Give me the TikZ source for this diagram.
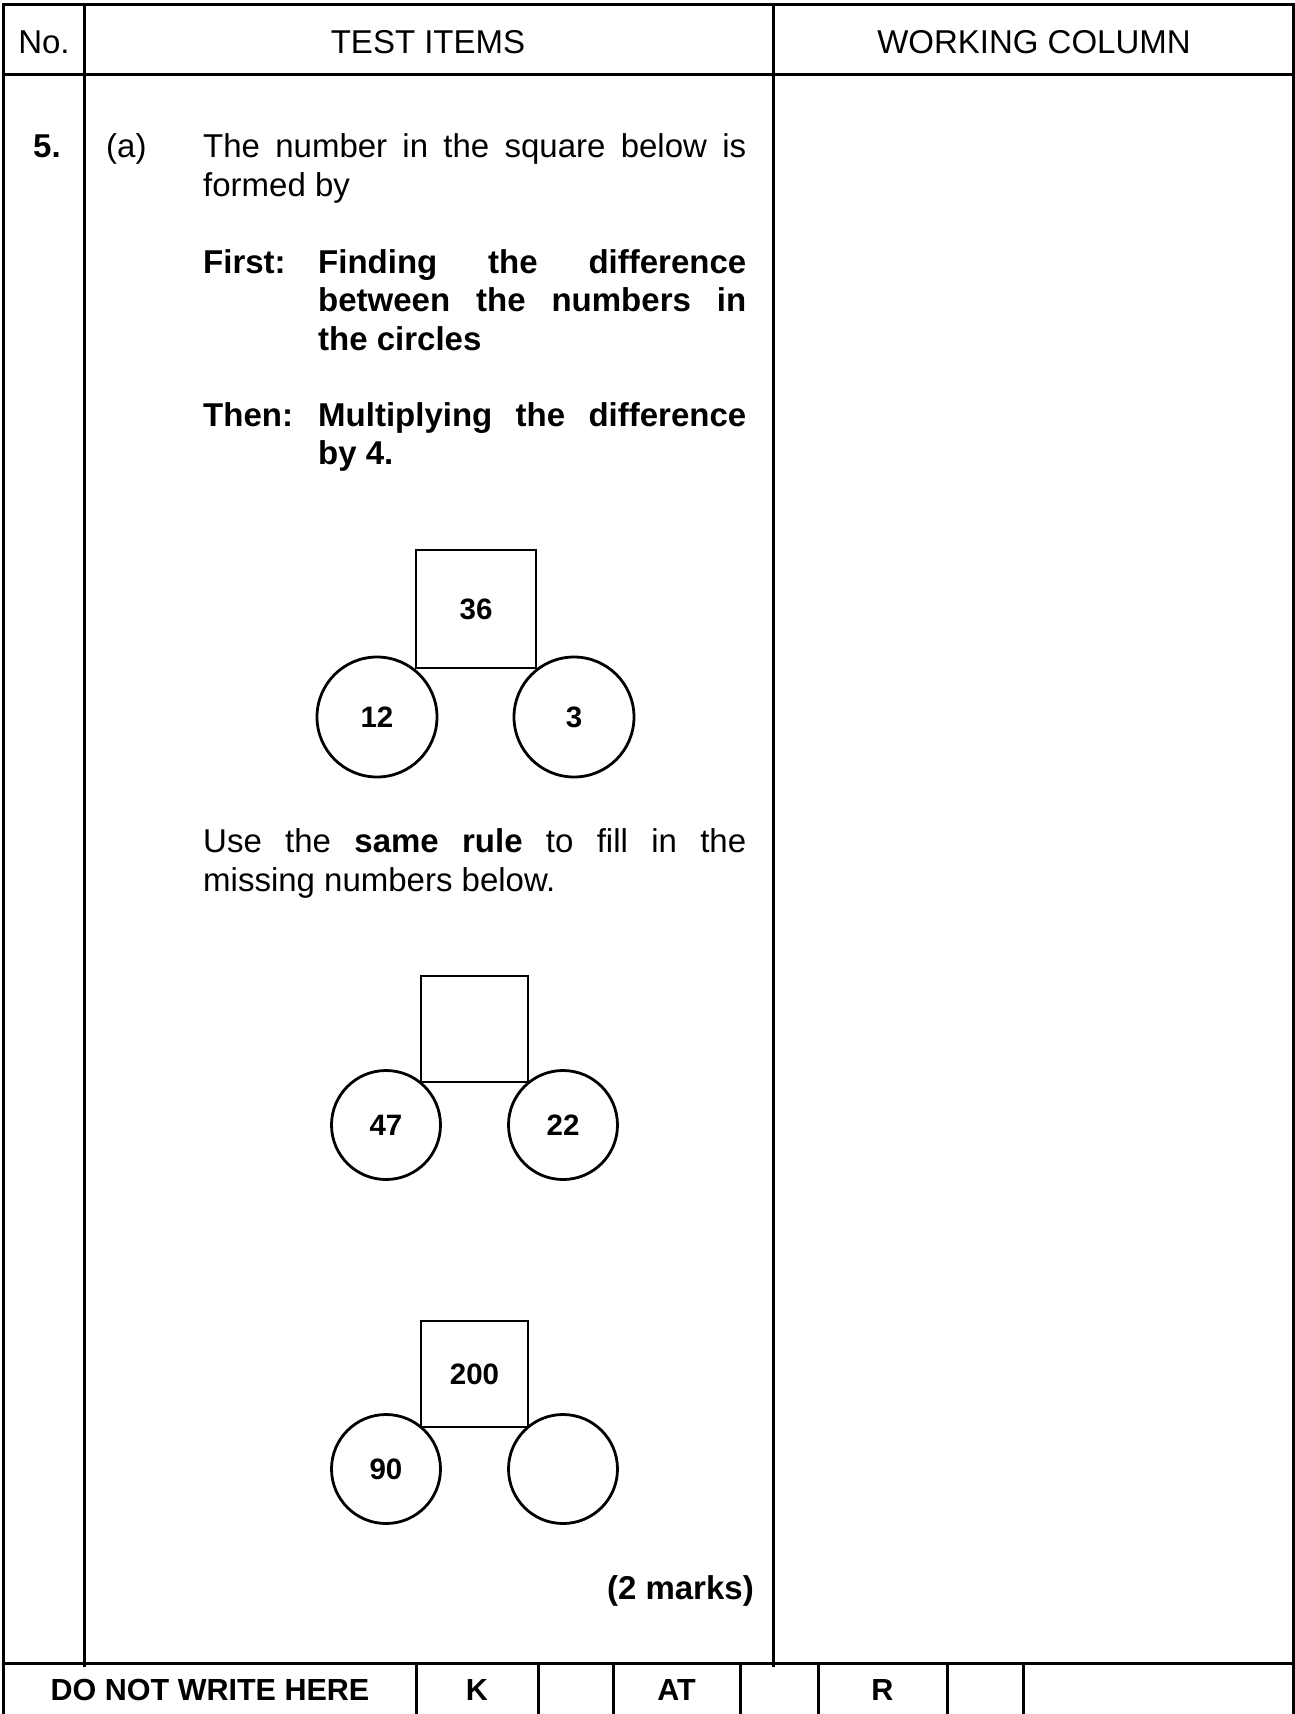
\documentclass[tikz,border=0pt]{standalone}
\usepackage{fontspec}
\setmainfont{Liberation Sans}
\begin{document}
\begin{tikzpicture}[x=1pt,y=-1pt,
  rule/.style={line width=3pt},
  sq/.style={draw,line width=2.8pt,rectangle,inner sep=0pt,font=\fontsize{29.5}{34}\selectfont\bfseries},
  circ/.style={draw,line width=2.8pt,circle,inner sep=0pt,font=\fontsize{29.5}{34}\selectfont\bfseries},
  txt/.style={inner sep=0pt,font=\fontsize{33}{38}\selectfont},
  btxt/.style={inner sep=0pt,font=\fontsize{33}{38}\selectfont\bfseries},
  foot/.style={inner sep=0pt,font=\fontsize{30.5}{34}\selectfont\bfseries}]
\useasboundingbox (0,0) rectangle (1295,1714);
% table frame
\draw[rule] (3,1714) -- (3,4) -- (1293,4) -- (1293,1714);
\draw[rule] (3,74) -- (1293,74);
\draw[rule] (3,1663) -- (1293,1663);
\draw[rule] (84,4) -- (84,1667);
\draw[rule] (773,4) -- (773,1667);
\foreach \x in {416,538,613,740,818,947,1023} \draw[rule] (\x,1663) -- (\x,1714);
% header
\node[txt,anchor=base] (hno) at (44,53) {No.};
\node[txt,anchor=base] (hti) at (428,53) {TEST ITEMS};
\node[txt,anchor=base] (hwc) at (1034,53) {WORKING COLUMN};
% question text
\node[btxt,anchor=base west] (qno) at (33,157) {5.};
\node[txt,anchor=base west] (qa) at (106,157) {(a)};
\node[txt,anchor=base west] (l1) at (203,157) {\makebox[543pt][s]{The number in the square below is}};
\node[txt,anchor=base west] (l2) at (203,196) {formed by};
\node[btxt,anchor=base west] (f0) at (203,273) {First:};
\node[btxt,anchor=base west] (f1) at (318,273) {\makebox[428pt][s]{Finding the difference}};
\node[btxt,anchor=base west] (f2) at (318,311) {\makebox[428pt][s]{between the numbers in}};
\node[btxt,anchor=base west] (f3) at (318,350) {the circles};
\node[btxt,anchor=base west] (t0) at (203,426) {Then:};
\node[btxt,anchor=base west] (t1) at (318,426) {\makebox[428pt][s]{Multiplying the difference}};
\node[btxt,anchor=base west] (t2) at (318,464) {by 4.};
\node[txt,anchor=base west] (u1) at (203,852) {\makebox[543pt][s]{Use the \textbf{same rule} to fill in the}};
\node[txt,anchor=base west] (u2) at (203,891) {missing numbers below.};
\node[btxt,anchor=base east] (marks) at (754,1599) {(2 marks)};
% diagram 1
\node[sq,minimum width=120pt,minimum height=118pt] (s1) at (476,609) {36};
\node[circ,minimum size=120pt] (c1a) at (377,717) {12};
\node[circ,minimum size=120pt] (c1b) at (574,717) {3};
% diagram 2
\node[sq,minimum width=107pt,minimum height=106pt] (s2) at (474.5,1029) {};
\node[circ,minimum size=109pt] (c2a) at (386,1125) {47};
\node[circ,minimum size=109pt] (c2b) at (563,1125) {22};
% diagram 3
\node[sq,minimum width=107pt,minimum height=106pt] (s3) at (474.5,1374) {200};
\node[circ,minimum size=109pt] (c3a) at (386,1469) {90};
\node[circ,minimum size=109pt] (c3b) at (563,1469) {};
% footer
\node[foot,anchor=base] (dn) at (210,1700) {DO NOT WRITE HERE};
\node[foot,anchor=base] (fk) at (477,1700) {K};
\node[foot,anchor=base] (fat) at (676.5,1700) {AT};
\node[foot,anchor=base] (fr) at (882.5,1700) {R};
\end{tikzpicture}
\end{document}
